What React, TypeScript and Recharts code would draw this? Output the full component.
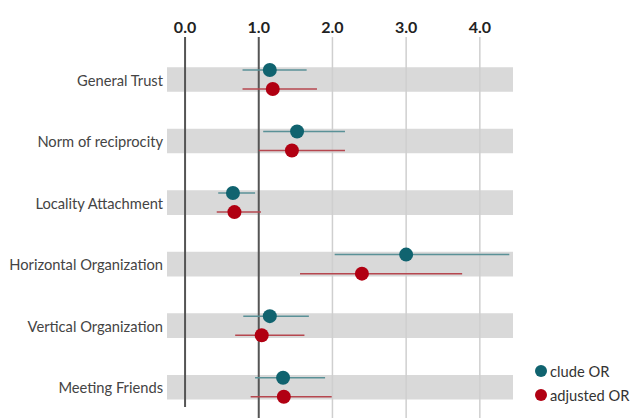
import React from 'react';
import {
  ScatterChart,
  Scatter,
  XAxis,
  YAxis,
  ErrorBar,
  ReferenceArea,
  ReferenceLine,
  Legend,
} from 'recharts';

const categories = [
  'General Trust',
  'Norm of reciprocity',
  'Locality Attachment',
  'Horizontal Organization',
  'Vertical Organization',
  'Meeting Friends',
];
const crudeOR = [1.15, 1.52, 0.65, 3.0, 1.15, 1.33];
const crudeLow = [0.78, 1.06, 0.45, 2.03, 0.79, 0.95];
const crudeHigh = [1.65, 2.17, 0.95, 4.4, 1.68, 1.9];
const adjOR = [1.19, 1.45, 0.67, 2.4, 1.04, 1.34];
const adjLow = [0.78, 1.0, 0.43, 1.56, 0.68, 0.89];
const adjHigh = [1.79, 2.17, 1.03, 3.76, 1.62, 1.99];
const xTicks = [0, 1, 2, 3, 4];
const seriesNames = ['clude OR', 'adjusted OR'];

const TEAL = '#10636f';
const RED = '#b10012';
const TEAL_LINE = '#5a9197';
const RED_LINE = '#b6474f';
const FONT = 'Lato, "Open Sans", sans-serif';

const X_MIN = -0.245;
const X_MAX = 4.45;
const OFFSET = 0.155;

const crudeData = categories.map((c, i) => ({
  name: c,
  x: crudeOR[i],
  y: i - OFFSET,
  err: [crudeOR[i] - crudeLow[i], crudeHigh[i] - crudeOR[i]],
}));
const adjData = categories.map((c, i) => ({
  name: c,
  x: adjOR[i],
  y: i + OFFSET,
  err: [adjOR[i] - adjLow[i], adjHigh[i] - adjOR[i]],
}));

const dot = (color: string) => (props: any) => (
  <circle cx={props.cx} cy={props.cy} r={7} fill={color} />
);

const renderLegend = () => (
  <div style={{ fontFamily: FONT, fontSize: 14.7, color: '#333' }}>
    {seriesNames.map((n, i) => (
      <div key={n} style={{ display: 'flex', alignItems: 'center', height: 24 }}>
        <svg width={14} height={14} style={{ marginRight: 2 }}>
          <circle cx={7} cy={7} r={6} fill={i === 0 ? TEAL : RED} />
        </svg>
        <span>{n}</span>
      </div>
    ))}
  </div>
);

export default function App() {
  return (
    <div style={{ position: 'absolute', left: 0, top: 0, width: 635, height: 418, background: '#fff' }}>
      <ScatterChart width={635} height={418} margin={{ top: 0, right: 122, bottom: 0, left: 0 }}>
        <XAxis
          type="number"
          dataKey="x"
          orientation="top"
          domain={[X_MIN, X_MAX]}
          allowDataOverflow
          ticks={xTicks}
          tickFormatter={(v: number) => v.toFixed(1)}
          axisLine={false}
          tickLine={false}
          tickSize={0}
          tickMargin={4}
          height={37}
          tick={{ fontFamily: FONT, fontSize: 16, fontWeight: 700, fill: '#222' }}
        />
        <YAxis
          type="number"
          dataKey="y"
          domain={[-0.69, 5.5]}
          allowDataOverflow
          reversed
          ticks={[0, 1, 2, 3, 4, 5]}
          tickFormatter={(v: number) => categories[v] ?? ''}
          interval={0}
          axisLine={false}
          tickLine={false}
          tickSize={0}
          tickMargin={4}
          width={167}
          tick={{ fontFamily: FONT, fontSize: 14.7, fill: '#444', dy: 1 }}
        />
        {categories.map((c, i) => (
          <ReferenceArea
            key={c}
            x1={X_MIN}
            x2={X_MAX}
            y1={i - 0.2}
            y2={i + 0.2}
            fill="#d9d9d9"
            fillOpacity={1}
            stroke="none"
          />
        ))}
        {[2, 3, 4].map((v) => (
          <ReferenceLine key={v} x={v} stroke="#cfcfcf" strokeWidth={1.5} />
        ))}
        <ReferenceLine
          segment={[
            { x: 0, y: -0.69 },
            { x: 0, y: 5.32 },
          ]}
          stroke="#555"
          strokeWidth={2}
        />
        <ReferenceLine x={1} stroke="#555" strokeWidth={2} />
        <Scatter data={crudeData} name={seriesNames[0]} fill={TEAL} shape={dot(TEAL)} isAnimationActive={false}>
          <ErrorBar dataKey="err" direction="x" width={0} stroke={TEAL_LINE} strokeWidth={1.5} isAnimationActive={false} />
        </Scatter>
        <Scatter data={adjData} name={seriesNames[1]} fill={RED} shape={dot(RED)} isAnimationActive={false}>
          <ErrorBar dataKey="err" direction="x" width={0} stroke={RED_LINE} strokeWidth={1.5} isAnimationActive={false} />
        </Scatter>
        <Legend
          layout="horizontal"
          align="center"
          verticalAlign="middle"
          content={renderLegend}
          wrapperStyle={{ left: 534, top: 359, width: 110, height: 50 }}
        />
      </ScatterChart>
    </div>
  );
}
